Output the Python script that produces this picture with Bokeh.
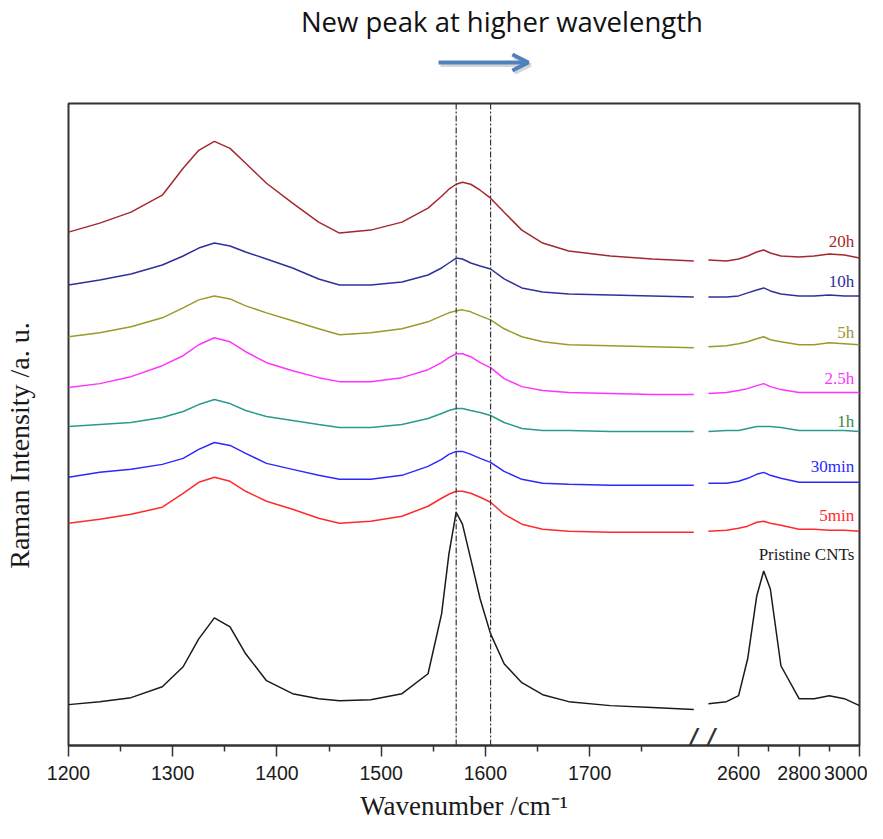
import numpy as np
from bokeh.plotting import figure
from bokeh.layouts import column
from bokeh.models import (Range1d, FixedTicker, LinearAxis, Span, Arrow,
                          OpenHead, CustomJSTickFormatter, ColumnDataSource)
from bokeh.core.properties import value
from bokeh.embed import file_html
from bokeh.resources import INLINE

# ---------------- data ----------------
wn_low = [1200, 1230, 1260, 1290, 1310, 1325, 1340, 1355, 1370, 1390, 1415, 1440,
          1460, 1490, 1520, 1545, 1558, 1565, 1572, 1578, 1586, 1595, 1605, 1618,
          1635, 1655, 1680, 1720, 1760, 1800]
wn_high = [2500, 2560, 2600, 2630, 2660, 2683, 2705, 2740, 2800, 2850, 2900, 2950, 3000]

pristine_low = [41, 44, 48, 59, 79, 107, 128, 119, 92, 65, 52, 47, 45, 46, 52, 72, 132,
                192, 234, 222, 187, 147, 112, 82, 63, 51, 44, 40, 38, 36]
pristine_high = [42, 44, 50, 87, 150, 175, 157, 80, 47, 47, 50, 47, 40]

m5_low = [223, 227, 232, 239, 253, 264, 269, 265, 255, 245, 237, 228, 223, 225, 230, 240,
          248, 252, 255, 255, 253, 249, 244, 232, 222, 217, 215, 214, 214, 214]
m5_high = [215, 216, 218, 220, 224, 225, 223, 221, 217, 217, 216, 216, 215]

m30_low = [269, 274, 277, 282, 288, 297, 304, 301, 293, 283, 277, 271, 267, 267, 271, 280,
           287, 292, 295, 295, 292, 288, 284, 275, 267, 263, 262, 261, 261, 261]
m30_high = [263, 263, 265, 268, 272, 274, 271, 268, 264, 264, 264, 264, 264]

h1_low = [320, 322, 324, 329, 335, 342, 347, 343, 336, 330, 326, 322, 319, 319, 322, 328,
          333, 336, 338, 338, 336, 334, 331, 324, 318, 316, 316, 315, 315, 315]
h1_high = [315, 316, 316, 318, 320, 320, 320, 319, 316, 316, 316, 316, 315]

h2_5_low = [359, 363, 370, 381, 391, 402, 409, 405, 395, 384, 376, 369, 365, 365, 369, 377,
            384, 389, 393, 393, 390, 384, 379, 368, 360, 356, 354, 353, 352, 352]
h2_5_high = [353, 354, 356, 358, 361, 363, 360, 357, 354, 354, 354, 354, 354]

h5_low = [410, 414, 420, 429, 439, 447, 451, 448, 441, 434, 426, 418, 412, 414, 418, 425,
          431, 434, 436, 437, 435, 431, 427, 418, 410, 405, 402, 401, 400, 399]
h5_high = [400, 401, 403, 405, 408, 410, 407, 405, 402, 402, 404, 403, 402]

h10_low = [462, 467, 473, 482, 491, 499, 504, 501, 495, 488, 479, 468, 462, 462, 465, 472,
           479, 484, 489, 488, 484, 481, 478, 468, 459, 455, 453, 452, 451, 450]
h10_high = [450, 450, 451, 454, 457, 459, 456, 453, 451, 451, 452, 451, 451]

h20_low = [515, 524, 535, 552, 579, 597, 606, 599, 584, 564, 544, 525, 514, 517, 525, 539,
           551, 558, 563, 565, 563, 557, 549, 535, 517, 504, 496, 491, 488, 486]
h20_high = [487, 486, 488, 491, 495, 497, 494, 491, 490, 491, 493, 492, 489]

series_names = ["Pristine CNTs", "5min", "30min", "1h", "2.5h", "5h", "10h", "20h"]
series_low = [pristine_low, m5_low, m30_low, h1_low, h2_5_low, h5_low, h10_low, h20_low]
series_high = [pristine_high, m5_high, m30_high, h1_high, h2_5_high, h5_high, h10_high, h20_high]
line_colors = ["#1a1a1a", "#ff2a2a", "#2a2aff", "#2a9a8f", "#ff33ff", "#9a9a2a", "#30309a", "#a3292f"]
label_colors = ["#1a1a1a", "#ff2a2a", "#2a2aff", "#3a8a4a", "#ff33ff", "#9a9a3a", "#30309a", "#a3292f"]
label_y = [191.5, 231, 280, 325, 368, 414.5, 465, 506]

major_wn = [1200, 1300, 1400, 1500, 1600, 1700, 2600, 2800, 3000]
minor_wn = [1250, 1350, 1450, 1550, 1650, 1750, 2700, 2900]
marker_wn = [1572, 1605]

title_text = "New peak at higher wavelength"

# ---------------- broken axis mapping ----------------
LOW_END = 1800.0
HIGH_START = 2500.0
HIGH_OFFSET = 1814.0
HIGH_SCALE = 0.29


def to_axis(w):
    w = np.asarray(w, dtype=float)
    return np.where(w <= LOW_END, w, HIGH_OFFSET + (w - HIGH_START) * HIGH_SCALE)


x_end = float(to_axis([3000])[0])

W = 867
HDR_H = 74
MAIN_H = 823 - HDR_H
FRAME_L = 66
FRAME_R = 859

# ---------------- header (title + arrow) ----------------
# header frame is aligned with the main frame by the column layout, so use pixel coords
hdr = figure(width=W, height=HDR_H, output_backend="svg", toolbar_location=None,
             x_range=Range1d(FRAME_L, FRAME_R), y_range=Range1d(HDR_H, 0),
             x_axis_location=None, y_axis_location=None, min_border=0,
             min_border_left=FRAME_L, min_border_right=W - FRAME_R)
hdr.outline_line_color = None
hdr.grid.visible = False
hdr.text(x=[500.5], y=[21], text=[title_text], text_font=value("Open Sans"),
         text_font_size="27.5px", text_color="#111111", text_align="center",
         text_baseline="middle")
hdr.add_layout(Arrow(x_start=439, y_start=64.5, x_end=529, y_end=64.5,
                     end=OpenHead(size=16, line_width=4, line_color="#d6d6d6"),
                     line_color="#d6d6d6", line_width=4))
hdr.add_layout(Arrow(x_start=437, y_start=62, x_end=527, y_end=62,
                     end=OpenHead(size=16, line_width=4, line_color="#4f81bd"),
                     line_color="#4f81bd", line_width=4))

# ---------------- main chart ----------------
p = figure(width=W, height=MAIN_H, output_backend="svg", toolbar_location=None,
           x_range=Range1d(1200, x_end), y_range=Range1d(0, 644),
           min_border_left=FRAME_L, min_border_right=W - FRAME_R,
           min_border_top=29, min_border_bottom=76)
p.outline_line_color = "#333333"
p.outline_line_width = 2
p.grid.visible = False
p.background_fill_color = "white"
p.border_fill_color = "white"

for name, lo, hi, c in zip(series_names, series_low, series_high, line_colors):
    p.line(to_axis(wn_low), lo, line_color=c, line_width=1.5)
    p.line(to_axis(wn_high), hi, line_color=c, line_width=1.5)

for m in marker_wn:
    p.add_layout(Span(location=float(to_axis([m])[0]), dimension="height",
                      line_color="#333333", line_width=1.2, line_dash="6 2 2 2"))

src = ColumnDataSource(dict(x=[1954] * len(series_names), y=label_y,
                            text=series_names, color=label_colors))
p.text(x="x", y="y", text="text", text_color="color", source=src,
       text_font=value("Liberation Serif"), text_font_size="17px",
       text_align="right", text_baseline="middle")

# bottom axis
xa = p.xaxis[0]
xa.ticker = FixedTicker(ticks=list(to_axis(major_wn)), minor_ticks=list(to_axis(minor_wn)))
xa.formatter = CustomJSTickFormatter(
    args=dict(le=LOW_END, hs=HIGH_START, ho=HIGH_OFFSET, sc=HIGH_SCALE),
    code="return (tick <= le ? tick : hs + (tick - ho) / sc).toFixed(0);")
xa.axis_line_color = "#333333"
xa.axis_line_width = 2
xa.major_tick_line_color = "#333333"
xa.minor_tick_line_color = "#333333"
xa.major_tick_line_width = 1.5
xa.minor_tick_line_width = 1.5
xa.major_tick_in = 0
xa.major_tick_out = 11
xa.minor_tick_in = 0
xa.minor_tick_out = 6
xa.major_label_standoff = 9
xa.major_label_text_font = "Liberation Sans"
xa.major_label_text_font_size = "19.5px"
xa.major_label_text_color = "#1a1a1a"
xa.axis_label = "Wavenumber /cm\u207b\u00b9"
xa.axis_label_text_font = "Liberation Serif"
xa.axis_label_text_font_size = "27px"
xa.axis_label_text_font_style = "normal"
xa.axis_label_text_color = "#1a1a1a"
xa.axis_label_standoff = 8

# left axis: only the label
ya = p.yaxis[0]
ya.ticker = FixedTicker(ticks=[], minor_ticks=[])
ya.axis_line_color = None
ya.major_tick_out = 0
ya.major_tick_in = 0
ya.minor_tick_out = 0
ya.minor_tick_in = 0
ya.major_label_standoff = 0
ya.axis_label = "Raman Intensity /a. u." + "\u00a0" * 6
ya.axis_label_text_font = "Liberation Serif"
ya.axis_label_text_font_size = "28px"
ya.axis_label_text_font_style = "normal"
ya.axis_label_text_color = "#1a1a1a"
ya.axis_label_standoff = 34

# axis-break marks, drawn as a label sitting on the bottom axis line
brk = LinearAxis(fixed_location=0,
                 ticker=FixedTicker(ticks=[(LOW_END + HIGH_OFFSET) / 2], minor_ticks=[]),
                 formatter=CustomJSTickFormatter(code="return '/ /';"),
                 axis_line_color=None, major_tick_line_color=None, minor_tick_line_color=None,
                 major_tick_in=0, major_tick_out=0, minor_tick_in=0, minor_tick_out=0,
                 major_label_standoff=-12, major_label_text_font="Liberation Sans",
                 major_label_text_font_style="italic",
                 major_label_text_font_size="32px", major_label_text_color="#333333")
p.add_layout(brk, "above")

open("out.html", "w").write(file_html(column(hdr, p), INLINE))
